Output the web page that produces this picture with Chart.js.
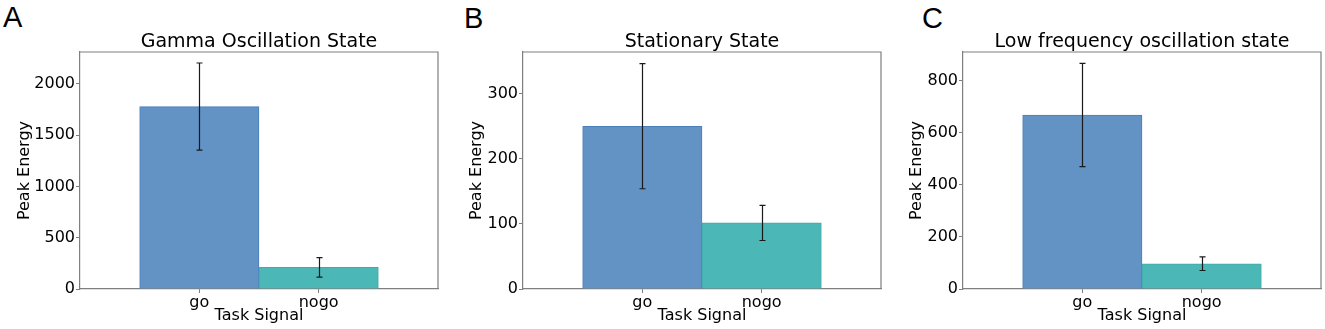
<!DOCTYPE html>
<html>
<head>
<meta charset="utf-8">
<script src="https://cdn.jsdelivr.net/npm/chart.js@4"></script>
<style>
  body { margin: 0; background: #fff; }
  #page { position: relative; width: 1325px; height: 329px; overflow: hidden; }
  .panel { position: absolute; top: 0; width: 440px; height: 329px; }
  .letter { position: absolute; font-family: "Liberation Sans", Arial, sans-serif; font-size: 29px; line-height: 29px; color: #000; }
</style>
</head>
<body>
<div id="page">
  <div class="letter" style="left:3px; top:3px;">A</div>
  <div class="letter" style="left:464px; top:4px;">B</div>
  <div class="letter" style="left:922px; top:4px;">C</div>
  <div class="panel" style="left:0px;"><canvas id="chartA"></canvas></div>
  <div class="panel" style="left:443px;"><canvas id="chartB"></canvas></div>
  <div class="panel" style="left:883px;"><canvas id="chartC"></canvas></div>
</div>
<script>
// data
const categories = ['go', 'nogo'];
const titles = ['Gamma Oscillation State', 'Stationary State', 'Low frequency oscillation state'];

const gammaMeans = [1778, 210];
const gammaErrors = [425, 95];
const stationaryMeans = [250, 101.5];
const stationaryErrors = [96, 27];
const lowFreqMeans = [668, 97];
const lowFreqErrors = [198, 26];

const yMaxes = [2310, 364, 910];
const gammaTicks = [0, 500, 1000, 1500, 2000];
const stationaryTicks = [0, 100, 200, 300];
const lowFreqTicks = [0, 200, 400, 600, 800];

const barColors = ['rgba(99,146,196,1)', 'rgba(75,183,182,1)'];
const barEdges = ['#4a7fbc', '#3eaaa9'];
const frameColor = '#7f7f7f';

Chart.defaults.font.family = '"DejaVu Sans", sans-serif';
Chart.defaults.color = '#000';

// draws error bars and the top/right frame lines
const errorBars = {
  id: 'errorBars',
  afterDatasetsDraw(chart, args, opts) {
    const ctx = chart.ctx;
    const x = chart.scales.x;
    const y = chart.scales.y;
    const means = opts.means;
    const errs = opts.errors;
    ctx.save();
    ctx.strokeStyle = '#1a1a1a';
    ctx.lineWidth = 1.2;
    for (let i = 0; i < means.length; i++) {
      const px = Math.round(x.getPixelForValue(i)) + 0.5;
      const top = y.getPixelForValue(means[i] + errs[i]);
      const bot = y.getPixelForValue(means[i] - errs[i]);
      ctx.beginPath();
      ctx.moveTo(px, top);
      ctx.lineTo(px, bot);
      ctx.moveTo(px - 3, top);
      ctx.lineTo(px + 3, top);
      ctx.moveTo(px - 3, bot);
      ctx.lineTo(px + 3, bot);
      ctx.stroke();
    }
    const a = chart.chartArea;
    ctx.strokeStyle = frameColor;
    ctx.lineWidth = 1.2;
    ctx.beginPath();
    ctx.moveTo(a.left, a.top);
    ctx.lineTo(a.right, a.top);
    ctx.lineTo(a.right, a.bottom);
    ctx.stroke();
    ctx.restore();
  }
};

function makeChart(id, idx, means, errors, yTicks, yTitlePad) {
  const ctx = document.getElementById(id).getContext('2d');
  return new Chart(ctx, {
    type: 'bar',
    data: {
      datasets: [{
        data: means.map((v, i) => ({ x: i, y: v })),
        backgroundColor: barColors,
        borderColor: barEdges,
        borderWidth: 1,
        barPercentage: 1,
        categoryPercentage: 1
      }]
    },
    options: {
      responsive: true,
      maintainAspectRatio: false,
      animation: false,
      layout: { padding: { left: 0, right: 2, top: 0, bottom: 0 } },
      plugins: {
        legend: { display: false },
        tooltip: { enabled: false },
        title: {
          display: true,
          text: titles[idx],
          fullSize: false,
          font: { size: 19, weight: 'normal', lineHeight: 1.0 },
          padding: { top: 32.5, bottom: 0.5 }
        },
        errorBars: { means: means, errors: errors }
      },
      scales: {
        x: {
          type: 'linear',
          min: -1,
          max: 2,
          offset: false,
          grid: { offset: false, drawOnChartArea: false, drawTicks: true, tickLength: 4, tickColor: frameColor },
          border: { color: frameColor, width: 1.2 },
          afterBuildTicks: (scale) => {
            scale.ticks = categories.map((c, i) => ({ value: i }));
          },
          afterFit: (scale) => { scale.height = 40; },
          ticks: {
            font: { size: 16 },
            padding: 0,
            callback: (v) => categories[v]
          },
          title: {
            display: true,
            text: 'Task Signal',
            font: { size: 16 },
            padding: { top: 0, bottom: 3.4 }
          }
        },
        y: {
          min: 0,
          max: yMaxes[idx],
          grid: { drawOnChartArea: false, drawTicks: true, tickLength: 4, tickColor: frameColor },
          border: { color: frameColor, width: 1.2 },
          afterBuildTicks: (scale) => {
            scale.ticks = yTicks.map(v => ({ value: v }));
          },
          afterFit: (scale) => { scale.width = 80; },
          ticks: {
            font: { size: 16 },
            padding: 1,
            callback: (v) => String(v)
          },
          title: {
            display: true,
            text: 'Peak Energy',
            font: { size: 16 },
            padding: { top: yTitlePad, bottom: 0 }
          }
        }
      }
    },
    plugins: [errorBars]
  });
}

makeChart('chartA', 0, gammaMeans, gammaErrors, gammaTicks, 15.2);
makeChart('chartB', 1, stationaryMeans, stationaryErrors, stationaryTicks, 24.7);
makeChart('chartC', 2, lowFreqMeans, lowFreqErrors, lowFreqTicks, 24.7);
</script>
</body>
</html>
